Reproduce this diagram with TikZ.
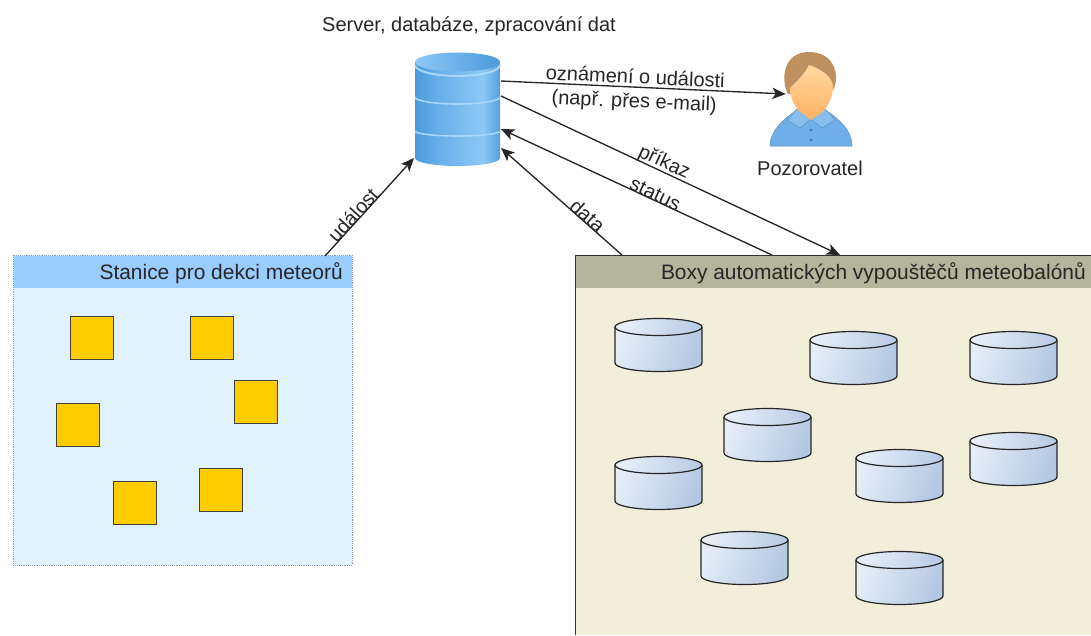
\documentclass[tikz,border=0pt]{standalone}
\usepackage{fontspec}
\setmainfont{Liberation Sans}
\usetikzlibrary{arrows.meta}

\definecolor{stationhead}{HTML}{99CCFF}
\definecolor{stationbody}{HTML}{E1F2FF}
\definecolor{stationline}{HTML}{8C9CC0}
\definecolor{sensorc}{HTML}{FFCC00}
\definecolor{boxhead}{HTML}{B5B59B}
\definecolor{boxbody}{HTML}{F1EED9}
\definecolor{canleft}{HTML}{E6EDF7}
\definecolor{canright}{HTML}{B4C8E3}
\definecolor{dbA}{HTML}{4A9ADB}
\definecolor{dbB}{HTML}{66AEE9}
\definecolor{dbC}{HTML}{8DC8F5}
\definecolor{dbD}{HTML}{559FDE}
\definecolor{dbrim}{HTML}{A8D6F6}
\definecolor{shirt}{HTML}{6FAEE8}
\definecolor{shirtlight}{HTML}{A9D6F8}
\definecolor{hairc}{HTML}{BF9161}
\definecolor{facec}{HTML}{FFD8A0}
\definecolor{facelow}{HTML}{FFB366}

\pgfdeclarehorizontalshading{dbshade}{100bp}{color(0bp)=(dbA); color(25bp)=(dbA); color(38bp)=(dbB); color(65bp)=(dbC); color(75bp)=(dbD); color(100bp)=(dbD)}

\begin{document}
\begin{tikzpicture}[x=0.75pt,y=-0.75pt,>={Stealth[length=10pt,width=8.5pt,inset=2.5pt]},
    lbl/.style={font=\fontsize{15}{17}\selectfont,text=black!85,inner sep=1pt},
    head/.style={font=\fontsize{15.7}{18}\selectfont,text=black!85,inner sep=0pt},
    rel/.style={->,line width=1pt,black!85},
    sensor/.style={draw=black!75,line width=1.1pt,fill=sensorc,minimum size=32pt,inner sep=0pt},
    disk/.style={shading=dbshade},
    launcher/.pic={
        \path[draw=black!85,line width=0.9pt,shading=axis,left color=canleft,right color=canright,shading angle=70]
            (-43.5,-18) -- (-43.5,18) arc[start angle=180,end angle=0,x radius=43.5,y radius=8.5]
            -- (43.5,-18) arc[start angle=0,end angle=-180,x radius=43.5,y radius=8.5] -- cycle;
        \draw[black!85,line width=0.9pt] (-43.5,-18) arc[start angle=180,end angle=0,x radius=43.5,y radius=8.5];
    }]
    \useasboundingbox (0,0) rectangle (1091,635);

    % station panel
    \node[draw=stationline,densely dotted,fill=stationbody,minimum width=254pt,minimum height=232.5pt,inner sep=0pt] (station) at (182.5,410) {};
    \fill[stationhead] (14,256) rectangle (351.5,288);
    \node[head,anchor=east] (stationt) at (343,273) {Stanice pro dekci meteorů};

    \node[sensor] (s1) at (92,338) {};
    \node[sensor] (s2) at (212,338) {};
    \node[sensor] (s3) at (256,402) {};
    \node[sensor] (s4) at (78,425) {};
    \node[sensor] (s5) at (135,503) {};
    \node[sensor] (s6) at (221,490) {};

    % launcher panel
    \fill[boxbody] (576,256) rectangle (1091,635);
    \fill[boxhead] (576,256) rectangle (1091,288);
    \draw[black!80,line width=1.1pt] (575.5,635) -- (575.5,255.5) -- (1091,255.5);
    \node[head,anchor=east] (boxt) at (1086,273) {Boxy automatických vypouštěčů meteobalónů};

    \pic (c1) at (658.5,345) {launcher};
    \pic (c2) at (853.5,358) {launcher};
    \pic (c3) at (1013.5,358) {launcher};
    \pic (c4) at (767.5,435) {launcher};
    \pic (c5) at (899.5,476) {launcher};
    \pic (c6) at (1013.5,459) {launcher};
    \pic (c7) at (658.5,483) {launcher};
    \pic (c8) at (744.5,558) {launcher};
    \pic (c9) at (899.5,578) {launcher};

    % database
    \node[minimum width=64pt,minimum height=85pt,inner sep=0pt] (db) at (457.5,110) {};
    \path[disk] (415,127) -- (415,158) arc[start angle=180,end angle=0,x radius=42.5,y radius=8] -- (500,127) -- cycle;
    \draw[dbrim,line width=1.2pt] (415,131) arc[start angle=180,end angle=0,x radius=42.5,y radius=5];
    \path[disk] (415,93) -- (415,128) arc[start angle=180,end angle=0,x radius=42.5,y radius=7] -- (500,93) -- cycle;
    \draw[dbrim,line width=1.2pt] (415,97) arc[start angle=180,end angle=0,x radius=42.5,y radius=7];
    \path[disk] (415,62) -- (415,93) arc[start angle=180,end angle=0,x radius=42.5,y radius=9] -- (500,62) -- cycle;
    \draw[dbrim,line width=1.5pt] (415,65) arc[start angle=180,end angle=0,x radius=42.5,y radius=11];
    \path[left color=dbC,right color=dbA] (457.5,62) ellipse[x radius=42.5,y radius=9.5];
    \node[lbl] (dbt) at (469,26) {Server, databáze, zpracování dat};

    % observer
    \node[minimum width=36pt,minimum height=36pt,inner sep=0pt] (obs) at (810,94) {};
    \path[left color=shirt,middle color=shirtlight,right color=shirt,draw=shirt!85!black,line width=0.4pt]
        (770,146) .. controls (770,130) and (785,118) .. (797,110) -- (825,110) .. controls (838,118) and (852,130) .. (852,146) -- cycle;
    \fill[shirt!60!shirtlight,draw=shirt!85!black,line width=0.4pt] (797,109) -- (787,120) -- (800,128) -- (811,119) -- cycle;
    \fill[shirt!60!shirtlight,draw=shirt!85!black,line width=0.4pt] (825,109) -- (835,120) -- (822,128) -- (811,119) -- cycle;
    \fill[facelow] (798,104) -- (824,104) -- (825,109) -- (811,120) -- (797,109) -- cycle;
    \fill[hairc] (788,94) .. controls (780,78) and (784,52) .. (809,52) .. controls (836,52) and (840,78) .. (833,90) -- cycle;
    \path[top color=facec,bottom color=facelow] (809,65) .. controls (818,68) and (832,75) .. (833,86) .. controls (833,102) and (822,117) .. (812,117) .. controls (800,117) and (790,102) .. (790,88) .. controls (796,82) and (804,75) .. cycle;
    \fill[shirt!70!black] (811,130) circle (1.5) (811,140) circle (1.5);
    \node[lbl] (obst) at (810,168) {Pozorovatel};

    % connectors
    \coordinate (dbp1) at (501,81);
    \coordinate (dbp2) at (501,96);
    \coordinate (dbp3) at (501,129);
    \coordinate (dbp4) at (501,148);
    \coordinate (dbp5) at (414,158);
    \coordinate (stationp) at (325,256);
    \coordinate (boxp1) at (622,255);
    \coordinate (boxp2) at (772,255);
    \coordinate (boxp3) at (840,255);

    \draw[rel] (dbp1) -- node [lbl,pos=0.47,above=1pt,sloped] {oznámení o události} node [lbl,pos=0.47,below=3pt,sloped] {(např. přes e-mail)} (obs.west);
    \draw[rel] (dbp2) -- node [lbl,pos=0.47,above=-2pt,sloped] {příkaz} (boxp3);
    \draw[rel] (boxp2) -- node [lbl,pos=0.44,above=-2pt,sloped] {status} (dbp3);
    \draw[rel] (boxp1) -- node [lbl,pos=0.32,above=-2pt,sloped] {data} (dbp4);
    \draw[rel] (stationp) -- node [lbl,pos=0.37,above=-2pt,sloped] {událost} (dbp5);
\end{tikzpicture}
\end{document}
